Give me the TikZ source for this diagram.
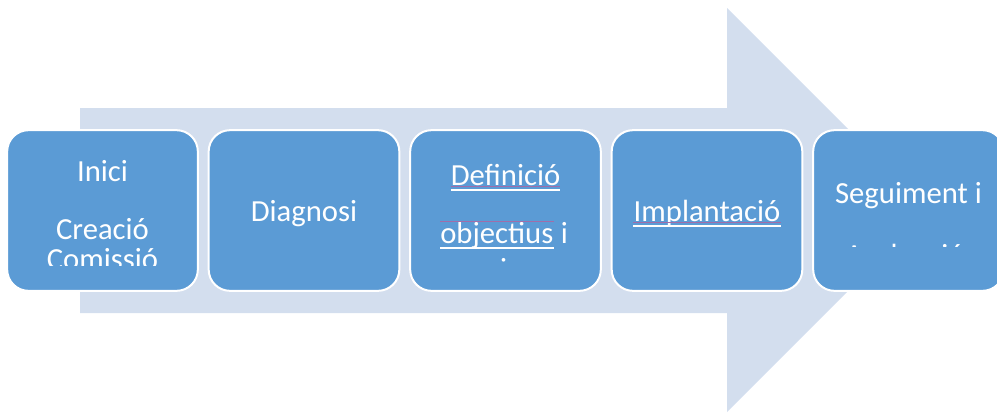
\documentclass[tikz,border=0pt]{standalone}
\usepackage{fontspec}
\setmainfont{Carlito}
\usetikzlibrary{calc}
\definecolor{arrowbg}{RGB}{211,222,238}
\definecolor{boxfill}{RGB}{91,155,213}
\definecolor{spellline}{RGB}{160,110,170}
\tikzset{
    stepbox/.style = {
        draw=white,
        line width=1.5pt,
        fill=boxfill,
        rounded corners=16pt,
        minimum width=143pt,
        minimum height=120.5pt,
        inner sep=0pt,
    },
    steptext/.style = {
        text=white,
        anchor=base,
        inner sep=0pt,
        font=\fontsize{23}{27}\selectfont,
    },
    uline/.style = {
        white,
        line width=0.8pt,
    },
    spell/.style = {
        spellline,
        line width=0.6pt,
    }
}

\begin{document}
\begin{tikzpicture}[x=0.75pt, y=-0.75pt]
  \useasboundingbox (0,0) rectangle (997,412);

  % Big arrow behind the steps
  \fill[arrowbg] (80,108) -- (727,108) -- (727,8) -- (929,210) -- (727,412)
    -- (727,313) -- (80,313) -- cycle;

  % Steps
  \node[stepbox] (Inici) at (102.5,210.5) {};
  \node[stepbox] (Diag)  at (304,210.5) {};
  \node[stepbox] (Defin) at (505.5,210.5) {};
  \node[stepbox] (Impl)  at (707,210.5) {};
  \node[stepbox] (Segui) at (908.5,210.5) {};

  % Texts (cut at the bottom of the text area)
  \begin{scope}
    \clip (7,130) rectangle (198,265);
    \node[steptext] (IniciA) at (102.5,181) {Inici};
    \node[steptext] (IniciB) at (102.5,239) {Creació};
    \node[steptext] (IniciC) at (102.5,269) {Comissió};
  \end{scope}

  \node[steptext] (DiagA) at (304,221) {Diagnosi};

  \begin{scope}
    \clip (410,130) rectangle (601,262.5);
    \node[steptext] (DefinA) at (505.5,185) {Definició};
    \node[steptext, anchor=base west] (DefinB) at (440,243) {objectius};
    \node[steptext, anchor=base west] (DefinC) at ($(DefinB.base east)+(7,0)$) {i};
    \node[steptext] (DefinD) at (505.5,279.5) {accions};
  \end{scope}

  \node[steptext] (ImplA) at (707,221) {Implantació};

  \begin{scope}
    \clip (813,130) rectangle (997,246.5);
    \node[steptext] (SeguiA) at (908.5,203) {Seguiment i};
    \node[steptext] (SeguiB) at (905,265) {Avaluació};
  \end{scope}

  % Underlines and spelling marks
  \draw[spell] ($(DefinA.base west)+(0,1)$) -- ($(DefinA.base east)+(0,1)$);
  \draw[uline] ($(DefinA.base west)+(0,5)$) -- ($(DefinA.base east)+(0,5)$);
  \draw[spell] ($(DefinB.base west)+(0,-22)$) -- ($(DefinB.base east)+(0,-22)$);
  \draw[uline] ($(DefinB.base west)+(0,5)$) -- ($(DefinB.base east)+(0,5)$);
  \draw[spell] ($(ImplA.base west)+(0,1)$) -- ($(ImplA.base east)+(0,1)$);
  \draw[uline] ($(ImplA.base west)+(0,5)$) -- ($(ImplA.base east)+(0,5)$);

\end{tikzpicture}
\end{document}
